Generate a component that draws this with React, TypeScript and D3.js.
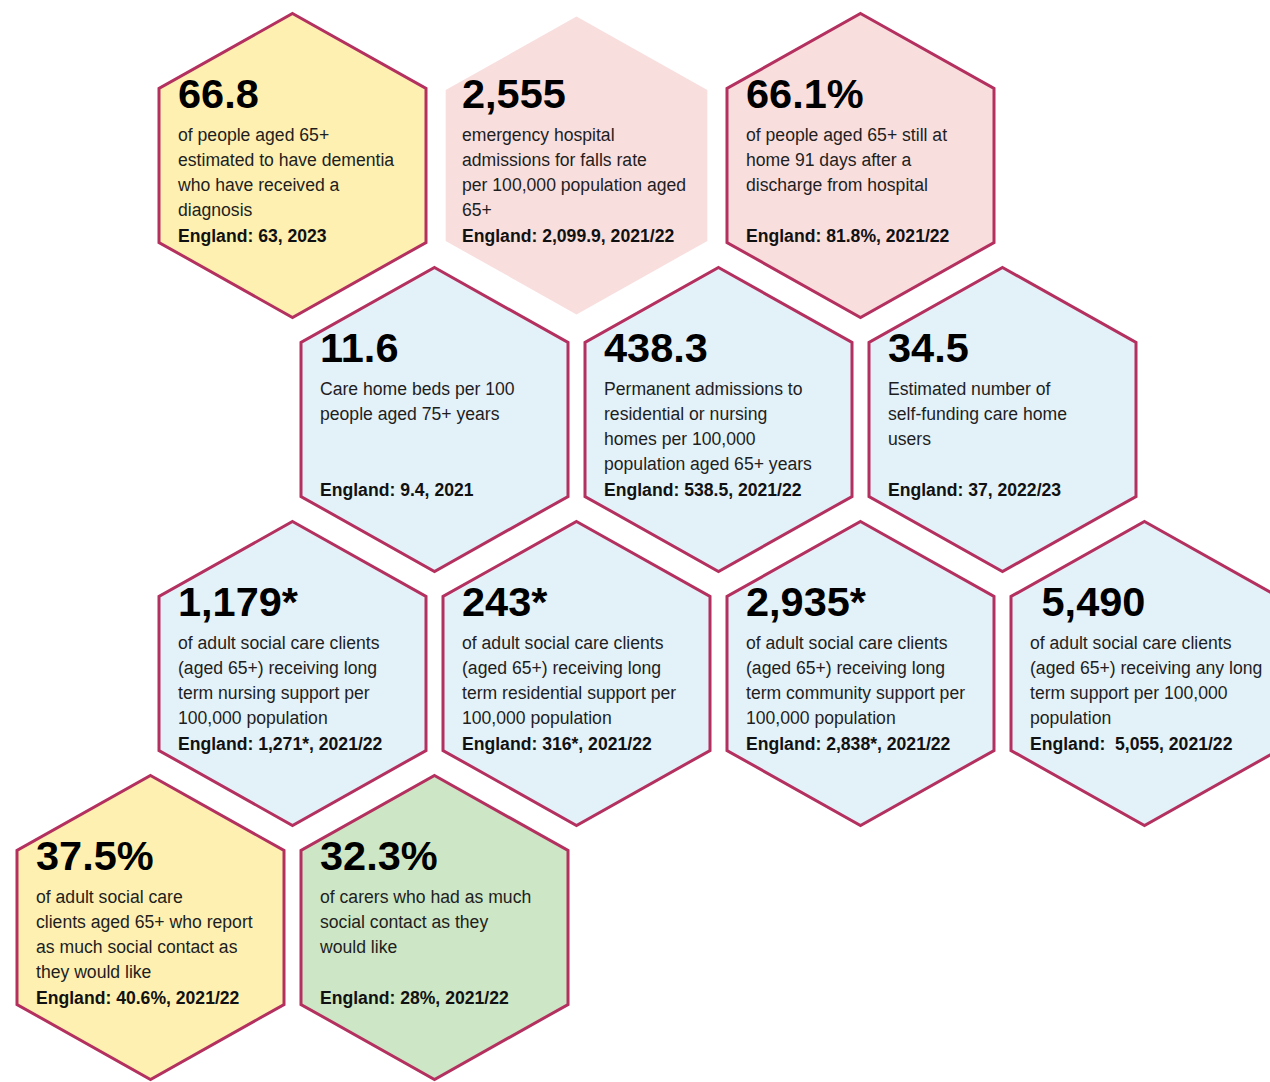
import * as d3 from 'd3';
import React, { useEffect, useRef } from 'react';

// headline values, one per hexagon
const values = [
    "66.8", "2,555", "66.1%",
    "11.6", "438.3", "34.5",
    "1,179*", "243*", "2,935*", " 5,490",
    "37.5%", "32.3%"
];

// description lines under each value
const descriptions = [
    ["of people aged 65+", "estimated to have dementia", "who have received a", "diagnosis"],
    ["emergency hospital", "admissions for falls rate", "per 100,000 population aged", "65+"],
    ["of people aged 65+ still at", "home 91 days after a", "discharge from hospital"],
    ["Care home beds per 100", "people aged 75+ years"],
    ["Permanent admissions to", "residential or nursing", "homes per 100,000", "population aged 65+ years"],
    ["Estimated number of", "self-funding care home", "users"],
    ["of adult social care clients", "(aged 65+) receiving long", "term nursing support per", "100,000 population"],
    ["of adult social care clients", "(aged 65+) receiving long", "term residential support per", "100,000 population"],
    ["of adult social care clients", "(aged 65+) receiving long", "term community support per", "100,000 population"],
    ["of adult social care clients", "(aged 65+) receiving any long", "term support per 100,000", "population"],
    ["of adult social care", "clients aged 65+ who report", "as much social contact as", "they would like"],
    ["of carers who had as much", "social contact as they", "would like"]
];

// comparator lines
const englandLines = [
    "England: 63, 2023", "England: 2,099.9, 2021/22", "England: 81.8%, 2021/22",
    "England: 9.4, 2021", "England: 538.5, 2021/22", "England: 37, 2022/23",
    "England: 1,271*, 2021/22", "England: 316*, 2021/22", "England: 2,838*, 2021/22", "England:  5,055, 2021/22",
    "England: 40.6%, 2021/22", "England: 28%, 2021/22"
];

// colour group of each hexagon
const groups = [
    "yellow", "pink", "pink",
    "blue", "blue", "blue",
    "blue", "blue", "blue", "blue",
    "yellow", "green"
];

// outlined or not
const outlined = [
    true, false, true,
    true, true, true,
    true, true, true, true,
    true, true
];

// honeycomb slot: row and half-column
const rows = [0, 0, 0, 1, 1, 1, 2, 2, 2, 2, 3, 3];
const halfCols = [1, 3, 5, 2, 4, 6, 1, 3, 5, 7, 0, 2];

const App = () => {
    const chartRef = useRef(null);

    useEffect(() => {
        const container = d3.select(chartRef.current);
        container.selectAll("*").remove();

        const width = 1270;
        const height = 1082;

        const colorScale = d3.scaleOrdinal()
            .domain(["yellow", "pink", "blue", "green"])
            .range(["#fdf0b1", "#f9dede", "#e3f1f9", "#cde6c5"]);

        const xScale = d3.scaleLinear().domain([0, 1]).range([150.5, 292.5]);
        const yScale = d3.scaleLinear().domain([0, 1]).range([165.5, 419.5]);

        const hw = 133.5;
        const hh = 152;
        const side = 77;
        const hexPoints = [
            [0, -hh], [hw, -side], [hw, side], [0, hh], [-hw, side], [-hw, -side]
        ];

        const svg = container.append("svg")
            .attr("width", width)
            .attr("height", height)
            .style("display", "block")
            .style("background", "#ffffff");

        const cells = values.map((v, i) => ({
            value: v,
            lines: descriptions[i],
            england: englandLines[i],
            group: groups[i],
            outlined: outlined[i],
            cx: xScale(halfCols[i]),
            cy: yScale(rows[i])
        }));

        const hex = svg.selectAll("g.hex")
            .data(cells)
            .enter().append("g")
            .attr("class", "hex")
            .attr("transform", d => `translate(${d.cx},${d.cy})`);

        // the unbordered one sits a touch inside its slot
        hex.append("path")
            .attr("d", d3.line()(hexPoints) + "Z")
            .attr("transform", d => d.outlined ? null : "scale(0.98)")
            .attr("fill", d => colorScale(d.group))
            .attr("stroke", d => d.outlined ? "#b3305f" : "none")
            .attr("stroke-width", 3)
            .attr("stroke-linejoin", "miter");

        const textX = -114.5;
        const font = "'Liberation Sans', Arial, sans-serif";

        hex.append("text")
            .attr("x", textX)
            .attr("y", -58)
            .attr("font-family", font)
            .attr("font-size", 41.5)
            .attr("font-weight", "bold")
            .attr("fill", "#000")
            .style("white-space", "pre")
            .text(d => d.value);

        hex.each(function (d) {
            const g = d3.select(this);
            d.lines.forEach((line, j) => {
                g.append("text")
                    .attr("x", textX)
                    .attr("y", -25 + j * 25.3)
                    .attr("font-family", font)
                    .attr("font-size", 17.6)
                    .attr("fill", "#1e1e1e")
                    .text(line);
            });
        });

        hex.append("text")
            .attr("x", textX)
            .attr("y", 76)
            .attr("font-family", font)
            .attr("font-size", 17.6)
            .attr("font-weight", "bold")
            .attr("fill", "#111")
            .style("white-space", "pre")
            .text(d => d.england);
    }, []);

    return (
        <div ref={chartRef} style={{ position: "absolute", left: 0, top: 0, width: 1270, height: 1082, overflow: "hidden" }} />
    );
};

export default App;
